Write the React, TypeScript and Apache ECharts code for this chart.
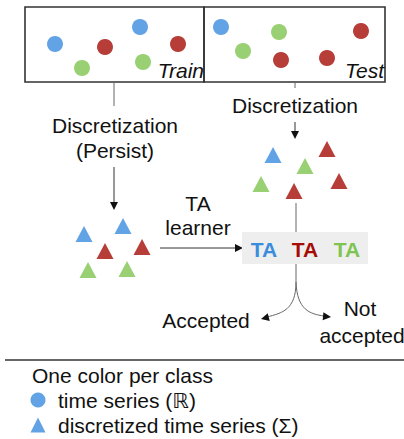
import React, { useEffect, useRef } from "react";
import * as echarts from "echarts";

const W = 404;
const H = 439;
const FONT = "'Liberation Sans', Arial, 'DejaVu Sans', sans-serif";
const FS = 21;

const classColors: Record<string, string> = {
  blue: "#3a8cdd",
  red: "#a50c06",
  green: "#7fc450",
};

// time series (circles)
const trainDotX = [55, 82, 105, 140, 143, 178];
const trainDotY = [44, 68, 47, 27, 62, 44];
const trainDotClass = ["blue", "green", "red", "blue", "green", "red"];

const testDotX = [221, 243, 279, 281, 327, 361];
const testDotY = [27, 51, 32, 60, 58, 31];
const testDotClass = ["blue", "green", "green", "red", "red", "red"];

// discretized time series (triangles)
const trainTriX = [84, 123, 105, 142, 88, 127];
const trainTriY = [234, 226, 251, 247, 270, 269];
const trainTriClass = ["blue", "blue", "red", "red", "green", "green"];

const testTriX = [273, 327, 305, 261, 294, 339];
const testTriY = [155, 149, 166, 184, 191, 181];
const testTriClass = ["blue", "red", "green", "green", "red", "red"];

// legend markers
const legendMarkX = [38, 38];
const legendMarkY = [400, 425];

// TA labels
const taLabels = ["TA", "TA", "TA"];
const taClass = ["blue", "red", "green"];
const taX = [264, 305, 347];

function pts(xs: number[], ys: number[], cls: string[]) {
  return xs.map((x, i) => ({
    value: [x, ys[i]],
    itemStyle: { color: classColors[cls[i]] },
  }));
}

function arrowHead(tipX: number, tipY: number, angle: number, len = 8, half = 4, color = "#111") {
  const bx = tipX - Math.cos(angle) * len;
  const by = tipY - Math.sin(angle) * len;
  const px = -Math.sin(angle) * half;
  const py = Math.cos(angle) * half;
  return {
    type: "polygon",
    shape: { points: [[tipX, tipY], [bx + px, by + py], [bx - px, by - py]] },
    style: { fill: color },
    silent: true,
  };
}

function line(x1: number, y1: number, x2: number, y2: number, color = "#666", w = 1) {
  return {
    type: "line",
    shape: { x1, y1, x2, y2 },
    style: { stroke: color, lineWidth: w },
    silent: true,
  };
}

function text(t: string, x: number, y: number, opts: any = {}) {
  return {
    type: "text",
    style: {
      text: t,
      x,
      y,
      fill: opts.fill || "#111",
      font: `${opts.style || "normal"} ${opts.weight || "normal"} ${opts.size || FS}px ${FONT}`,
      textAlign: opts.align || "center",
      textVerticalAlign: "middle",
    },
    silent: true,
  };
}

export default function App() {
  const ref = useRef<HTMLDivElement>(null);
  useEffect(() => {
    document.body.style.margin = "0";
    const chart = echarts.init(ref.current!, null, { renderer: "svg" });
    const graphic: any[] = [
      { type: "rect", shape: { x: 25, y: 7, width: 179, height: 75 }, style: { fill: "none", stroke: "#333", lineWidth: 1.6 }, silent: true },
      { type: "rect", shape: { x: 204, y: 7, width: 181, height: 75 }, style: { fill: "none", stroke: "#333", lineWidth: 1.6 }, silent: true },
      text("Train", 204, 70, { style: "italic", align: "right" }),
      text("Test", 384, 70, { style: "italic", align: "right" }),
      line(114, 82, 114, 106),
      text("Discretization", 115, 125),
      text("(Persist)", 115, 150),
      line(114, 167, 114, 203, "#333"),
      arrowHead(114, 210, Math.PI / 2),
      line(295, 82, 295, 88),
      text("Discretization", 295, 105),
      line(295, 122, 295, 132, "#333"),
      arrowHead(295, 139, Math.PI / 2),
      text("TA", 198, 203),
      text("learner", 198, 227),
      line(160, 248, 236, 248, "#333"),
      arrowHead(243, 248, 0),
      { type: "rect", shape: { x: 242, y: 232, width: 126, height: 32 }, style: { fill: "#eeeeee" }, silent: true },
      line(296, 203, 296, 232, "#666"),
      line(296, 264, 296, 282, "#666"),
      {
        type: "bezierCurve",
        shape: { x1: 296, y1: 282, cpx1: 296, cpy1: 310, cpx2: 282, cpy2: 313, x2: 267, y2: 317 },
        style: { stroke: "#666", lineWidth: 1, fill: "none" },
        silent: true,
      },
      arrowHead(261, 319, Math.PI - 0.25),
      {
        type: "bezierCurve",
        shape: { x1: 296, y1: 282, cpx1: 297, cpy1: 310, cpx2: 310, cpy2: 314, x2: 324, y2: 316 },
        style: { stroke: "#666", lineWidth: 1, fill: "none" },
        silent: true,
      },
      arrowHead(331, 317, 0.1),
      text("Accepted", 206, 320),
      text("Not", 360, 308),
      text("accepted", 362, 335),
      line(5, 360, 404, 360, "#666", 2),
      text("One color per class", 32, 375, { align: "left" }),
      text("time series (ℝ)", 58, 400, { align: "left" }),
      text("discretized time series (Σ)", 58, 425, { align: "left" }),
    ];
    taLabels.forEach((t, i) => {
      graphic.push(text(t, taX[i], 249, { weight: "bold", fill: classColors[taClass[i]] }));
    });

    chart.setOption({
      animation: false,
      grid: { left: 0, right: 0, top: 0, bottom: 0 },
      xAxis: { type: "value", min: 0, max: W, show: false },
      yAxis: { type: "value", min: 0, max: H, inverse: true, show: false },
      series: [
        { type: "scatter", symbol: "circle", symbolSize: 16, data: pts(trainDotX, trainDotY, trainDotClass), silent: true, z: 3 },
        { type: "scatter", symbol: "circle", symbolSize: 16, data: pts(testDotX, testDotY, testDotClass), silent: true, z: 3 },
        { type: "scatter", symbol: "triangle", symbolSize: [17, 16], data: pts(trainTriX, trainTriY, trainTriClass), silent: true, z: 3 },
        { type: "scatter", symbol: "triangle", symbolSize: [17, 16], data: pts(testTriX, testTriY, testTriClass), silent: true, z: 3 },
        {
          type: "scatter",
          symbolSize: 15,
          data: [
            { value: [legendMarkX[0], legendMarkY[0]], symbol: "circle", itemStyle: { color: classColors.blue } },
            { value: [legendMarkX[1], legendMarkY[1]], symbol: "triangle", itemStyle: { color: classColors.blue } },
          ],
          silent: true,
          z: 3,
        },
      ],
      graphic: { elements: graphic },
    });
    return () => chart.dispose();
  }, []);
  return <div ref={ref} style={{ width: W, height: H }} />;
}
